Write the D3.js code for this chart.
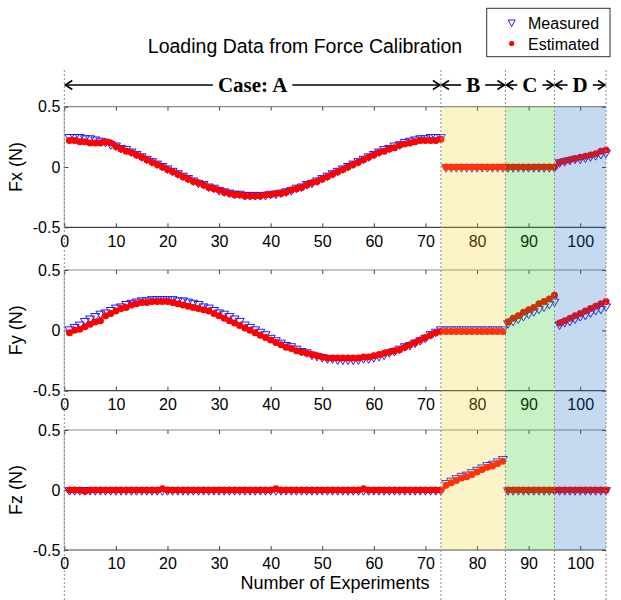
<!DOCTYPE html>
<html><head><meta charset="utf-8">
<script src="https://cdn.jsdelivr.net/npm/d3@7/dist/d3.min.js"></script>
<style>body{margin:0;background:#fff}svg{display:block}</style>
</head><body><svg id="c" width="621" height="600"></svg>
<script>
// ---------- data ----------
const experiments = d3.range(1, 106); // experiment numbers 1..105

const fxMeasured = [
 .24,.24,.24,.23,.23,.22,.21,.20,.18,.17,.15,.14,.12,.10,.08,.06,.04,.02,.00,-.02,-.04,-.06,-.08,-.10,-.12,-.14,-.15,-.17,-.18,-.20,-.21,-.22,-.23,-.23,-.24,-.24,-.24,
 -.24,-.24,-.23,-.23,-.22,-.21,-.20,-.18,-.17,-.15,-.14,-.12,-.10,-.08,-.06,-.04,-.02,.00,.02,.04,.06,.08,.10,.12,.14,.15,.17,.18,.20,.21,.22,.23,.23,.24,.24,.24,
 -.01,-.01,-.01,-.01,-.01,-.01,-.01,-.01,-.01,-.01,-.01,-.01,
 -.01,-.01,-.01,-.01,-.01,-.01,-.01,-.01,-.01,-.01,
 .03,.04,.05,.06,.06,.07,.08,.09,.10,.11];
const fxEstimated = [
 .22,.22,.21,.21,.20,.20,.20,.21,.20,.17,.15,.13,.12,.10,.08,.06,.04,.02,.00,-.02,-.04,-.06,-.08,-.10,-.12,-.13,-.15,-.17,-.18,-.19,-.21,-.22,-.23,-.23,-.24,-.24,-.24,
 -.24,-.23,-.23,-.22,-.22,-.21,-.19,-.18,-.17,-.15,-.13,-.12,-.10,-.08,-.06,-.04,-.02,.00,.02,.04,.06,.08,.10,.12,.13,.15,.16,.18,.19,.20,.21,.22,.22,.22,.22,.23,
 .00,.00,.00,.00,.00,.00,.00,.00,.00,.00,.00,.00,
 .00,.00,.00,.00,.00,.00,.00,.00,.00,.00,
 .04,.05,.06,.07,.08,.09,.10,.11,.13,.14];
const fyMeasured = [
 .00,.02,.04,.07,.09,.11,.13,.14,.16,.18,.19,.21,.22,.23,.24,.24,.25,.25,.25,
 .25,.25,.24,.24,.23,.22,.21,.19,.18,.16,.14,.13,.11,.09,.07,.04,.02,.00,
 -.02,-.04,-.07,-.09,-.11,-.13,-.14,-.16,-.18,-.19,-.21,-.22,-.23,-.24,-.24,-.25,-.25,-.25,
 -.25,-.25,-.24,-.24,-.23,-.22,-.21,-.19,-.18,-.16,-.14,-.13,-.11,-.09,-.07,-.04,-.02,.00,
 .00,.00,.00,.00,.00,.00,.00,.00,.00,.00,.00,.00,
 .05,.07,.09,.11,.13,.15,.17,.19,.21,.23,
 .04,.06,.07,.09,.11,.12,.14,.16,.17,.19];
const fyEstimated = [
 -.02,.00,.01,.03,.05,.07,.08,.12,.14,.16,.18,.19,.21,.22,.23,.23,.24,.24,.24,
 .24,.23,.22,.21,.20,.19,.18,.17,.16,.14,.12,.10,.08,.06,.04,.02,.00,-.02,
 -.04,-.06,-.08,-.10,-.12,-.14,-.15,-.17,-.18,-.19,-.20,-.21,-.22,-.23,-.23,-.23,-.23,-.23,
 -.23,-.23,-.22,-.22,-.21,-.20,-.19,-.18,-.17,-.16,-.14,-.12,-.10,-.08,-.06,-.04,-.02,-.01,
 -.01,-.01,-.01,-.01,-.01,-.01,-.01,-.01,-.01,-.01,-.01,-.01,
 .07,.10,.12,.15,.17,.19,.22,.24,.26,.29,
 .06,.08,.10,.12,.14,.16,.18,.20,.22,.24];
const fzMeasured = [
 -.01,-.01,-.01,-.01,-.01,-.01,-.01,-.01,-.01,-.01,-.01,-.01,-.01,-.01,-.01,-.01,-.01,-.01,-.01,-.01,
 -.01,-.01,-.01,-.01,-.01,-.01,-.01,-.01,-.01,-.01,-.01,-.01,-.01,-.01,-.01,-.01,-.01,-.01,-.01,-.01,
 -.01,-.01,-.01,-.01,-.01,-.01,-.01,-.01,-.01,-.01,-.01,-.01,-.01,-.01,-.01,-.01,-.01,-.01,-.01,-.01,
 -.01,-.01,-.01,-.01,-.01,-.01,-.01,-.01,-.01,-.01,-.01,-.01,-.01,
 .05,.07,.09,.11,.12,.14,.16,.18,.20,.21,.23,.25,
 -.01,-.01,-.01,-.01,-.01,-.01,-.01,-.01,-.01,-.01,
 -.01,-.01,-.01,-.01,-.01,-.01,-.01,-.01,-.01,-.01];
const fzEstimated = [
 .00,.00,.00,-.01,.00,.00,.00,.00,.00,.00,.00,.00,.00,.00,.00,.00,.00,.00,.01,.00,
 .00,.00,.00,.00,.00,.00,.00,.00,.00,.00,.00,.00,.00,.00,.00,.00,.00,.00,.00,.00,
 .01,.00,.00,.00,.00,.00,.00,.00,.00,.00,.00,.00,.00,.00,.00,.00,.00,.01,.00,.00,
 .00,.00,.00,.00,.00,.00,.00,.00,.00,.00,.00,.00,.00,
 .04,.06,.08,.10,.11,.13,.15,.17,.19,.20,.22,.24,
 .00,.00,.00,.00,.00,.00,.00,.00,.00,.00,
 .00,.00,.00,.00,.00,.00,.00,.00,.00,.00];

const panelLabels = ["Fx (N)", "Fy (N)", "Fz (N)"];
const caseLabels = ["Case: A", "B", "C", "D"];
const caseBounds = [0, 73, 85.5, 95, 105];
const xTicks = [0, 10, 20, 30, 40, 50, 60, 70, 80, 90, 100];
const yTicks = [-0.5, 0, 0.5];
const legendLabels = ["Measured", "Estimated"];
const titleText = "Loading Data from Force Calibration";
const xTitle = "Number of Experiments";

// ---------- layout / style ----------
const SANS = "'Liberation Sans', Arial, sans-serif";
const SERIF = "'Liberation Serif', 'Times New Roman', serif";
const patchColors = ["#f7cf23", "#23cb1b", "#176bc3"];
const svg = d3.select("#c");
const x = d3.scaleLinear().domain([0, 105]).range([64.3, 606]);
const panels = [
  {top: 106.7, bottom: 227.3, m: fxMeasured, e: fxEstimated},
  {top: 270,   bottom: 390.7, m: fyMeasured, e: fyEstimated},
  {top: 430,   bottom: 550,   m: fzMeasured, e: fzEstimated}
];
const triPath = "M-4.5,-3.5L4.5,-3.5L0,4Z";

panels.forEach((p, i) => {
  const y = d3.scaleLinear().domain([-0.5, 0.5]).range([p.bottom, p.top]);
  const g = svg.append("g");
  g.append("line").attr("x1", x(0)).attr("x2", x(105)).attr("y1", p.top).attr("y2", p.top)
    .attr("stroke", "#8a8a8a").attr("stroke-width", 1.2);
  g.append("line").attr("x1", x(0)).attr("x2", x(105)).attr("y1", p.bottom).attr("y2", p.bottom)
    .attr("stroke", "#444").attr("stroke-width", 1.2);
  g.append("line").attr("x1", x(0)).attr("x2", x(0)).attr("y1", p.top).attr("y2", p.bottom)
    .attr("stroke", "#aaa").attr("stroke-width", 1);
  const ab = g.append("g").attr("transform", `translate(0,${p.bottom})`)
    .call(d3.axisBottom(x).tickValues(xTicks).tickSize(-4).tickPadding(8).tickFormat(d => String(d)));
  const at = g.append("g").attr("transform", `translate(0,${p.top})`)
    .call(d3.axisTop(x).tickValues(xTicks).tickSize(-4).tickFormat(""));
  const al = g.append("g").attr("transform", `translate(${x(0)},0)`)
    .call(d3.axisLeft(y).tickValues(yTicks).tickSize(-4).tickPadding(4).tickFormat(d => String(d)));
  const ar = g.append("g").attr("transform", `translate(${x(105)},0)`)
    .call(d3.axisRight(y).tickValues(yTicks).tickSize(-4).tickFormat(""));
  [ab, at, al, ar].forEach(a => {
    a.select(".domain").remove();
    a.selectAll("line").attr("stroke", "#444");
    a.selectAll("text").attr("font-family", SANS).attr("font-size", 16).attr("fill", "#000");
  });
  g.append("text").attr("transform", `translate(22,${(p.top + p.bottom) / 2}) rotate(-90)`)
    .attr("text-anchor", "middle").attr("font-family", SANS).attr("font-size", 18)
    .text(panelLabels[i]);
  g.append("g").selectAll("path").data(experiments).join("path")
    .attr("d", triPath)
    .attr("transform", (d, k) => `translate(${x(d)},${y(p.m[k])})`)
    .attr("fill", "none").attr("stroke", "#1a1aff").attr("stroke-width", 1);
  g.append("g").selectAll("circle").data(experiments).join("circle")
    .attr("cx", d => x(d)).attr("cy", (d, k) => y(p.e[k])).attr("r", 3.5)
    .attr("fill", "#ff0000");
});

// translucent case patches drawn over the markers
caseBounds.slice(1, 4).forEach((b, i) => {
  svg.append("rect").attr("x", x(b)).attr("width", x(caseBounds[i + 2]) - x(b))
    .attr("y", 106.7).attr("height", 550 - 106.7)
    .attr("fill", patchColors[i]).attr("fill-opacity", 0.25);
});

svg.append("g").selectAll("line").data(caseBounds).join("line")
  .attr("x1", d => x(d)).attr("x2", d => x(d)).attr("y1", 70).attr("y2", 600)
  .attr("stroke", "#8c8c8c").attr("stroke-width", 1).attr("stroke-dasharray", "2,2");

const ay = 85;
caseLabels.forEach((lab, i) => {
  const x0 = x(caseBounds[i]), x1 = x(caseBounds[i + 1]), mid = (x0 + x1) / 2;
  const t = svg.append("text").attr("x", mid).attr("y", ay + 7).attr("text-anchor", "middle")
    .attr("font-family", SERIF).attr("font-weight", "bold").attr("font-size", 21).text(lab);
  const w = t.node().getComputedTextLength();
  const gap = 5;
  svg.append("line").attr("x1", x0 + 1).attr("x2", mid - w / 2 - gap).attr("y1", ay).attr("y2", ay)
    .attr("stroke", "#000").attr("stroke-width", 1.6);
  svg.append("line").attr("x1", mid + w / 2 + gap).attr("x2", x1 - 1).attr("y1", ay).attr("y2", ay)
    .attr("stroke", "#000").attr("stroke-width", 1.6);
  svg.append("path").attr("d", `M${x0 + 8},${ay - 4.5}L${x0 + 1},${ay}L${x0 + 8},${ay + 4.5}`)
    .attr("fill", "none").attr("stroke", "#000").attr("stroke-width", 1.6);
  svg.append("path").attr("d", `M${x1 - 8},${ay - 4.5}L${x1 - 1},${ay}L${x1 - 8},${ay + 4.5}`)
    .attr("fill", "none").attr("stroke", "#000").attr("stroke-width", 1.6);
});

svg.append("text").attr("x", 305).attr("y", 53).attr("text-anchor", "middle")
  .attr("font-family", SANS).attr("font-size", 19.5).text(titleText);

svg.append("text").attr("x", 335).attr("y", 589).attr("text-anchor", "middle")
  .attr("font-family", SANS).attr("font-size", 18).text(xTitle);

const lg = svg.append("g");
lg.append("rect").attr("x", 486.7).attr("y", 8.3).attr("width", 123.3).attr("height", 48.4)
  .attr("fill", "#fff").attr("stroke", "#333").attr("stroke-width", 1);
lg.append("path").attr("d", "M-3.5,-3L3.5,-3L0,3.5Z").attr("transform", "translate(511.7,23)")
  .attr("fill", "none").attr("stroke", "#1a1aff").attr("stroke-width", 1);
lg.append("circle").attr("cx", 511.7).attr("cy", 43.5).attr("r", 2.6).attr("fill", "#ff0000");
legendLabels.forEach((l, i) => {
  lg.append("text").attr("x", 528).attr("y", 28.5 + i * 21).attr("font-family", SANS)
    .attr("font-size", 16).text(l);
});
</script>
</body></html>
